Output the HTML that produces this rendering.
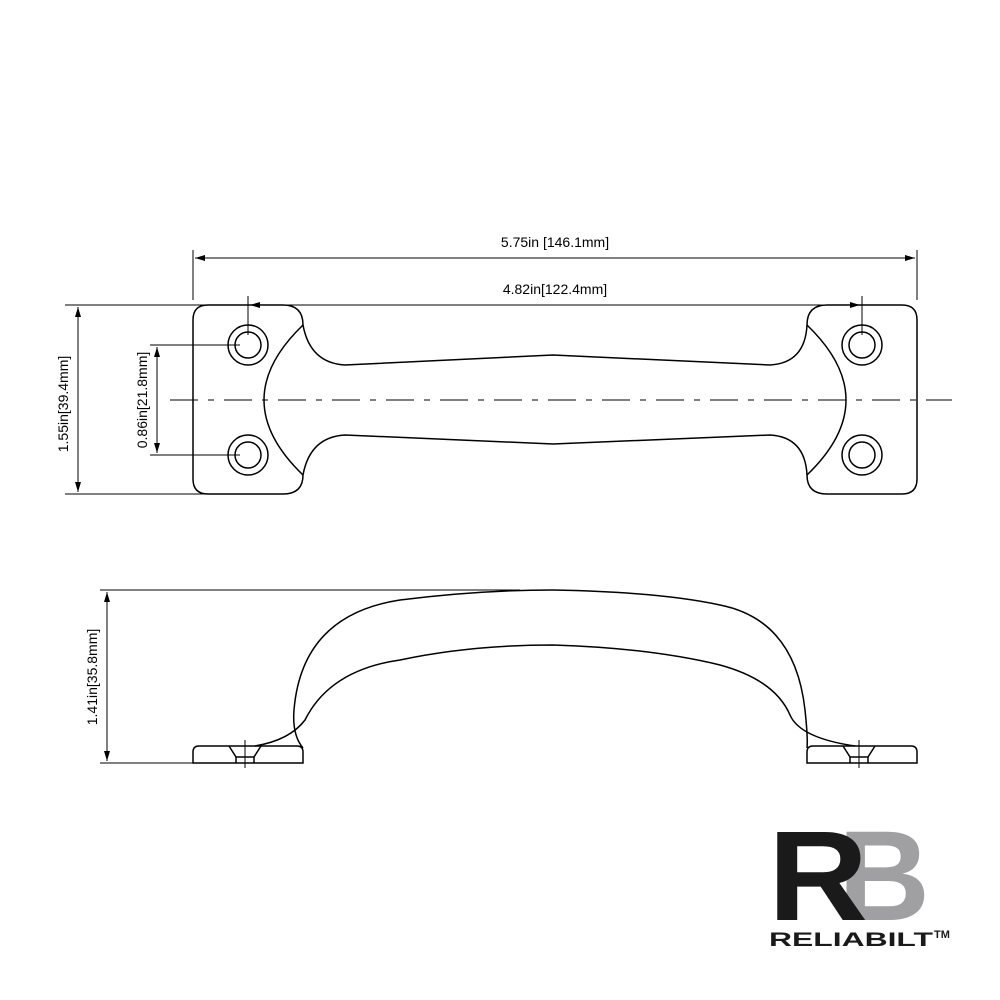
<!DOCTYPE html>
<html><head><style>body{margin:0;background:#fff}svg{display:block}</style></head><body>
<svg width="1000" height="1000" viewBox="0 0 1000 1000" xmlns="http://www.w3.org/2000/svg" font-family="Liberation Sans, sans-serif">
<defs><marker id="a" viewBox="0 0 10 6" refX="10" refY="3" markerWidth="10" markerHeight="6" orient="auto-start-reverse" markerUnits="userSpaceOnUse"><path d="M0,0L10,3L0,6z" fill="#000"/></marker></defs>
<g fill="none" stroke="#000" stroke-width="1.5">
<path d="M303,325 Q303,305 283,305 H208 Q193,305 193,320 V479 Q193,494 208,494 H283 Q303,494 303,475"/>
<path d="M303,325 Q310,363 345,365 L553,355 L770,365 Q805,363 807,325"/>
<path d="M303,475 Q310,437 345,435 L553,444 L770,435 Q805,437 807,475"/>
<path d="M807,325 Q807,305 827,305 H902 Q917,305 917,320 V479 Q917,494 902,494 H827 Q807,494 807,475"/>
<path d="M303,325 Q225,400 303,475"/>
<path d="M807,325 Q885,400 807,475"/>
<circle cx="248" cy="345" r="20"/><circle cx="248" cy="345" r="13"/>
<circle cx="248" cy="455" r="20"/><circle cx="248" cy="455" r="13"/>
<circle cx="862" cy="345" r="20"/><circle cx="862" cy="345" r="13"/>
<circle cx="862" cy="455" r="20"/><circle cx="862" cy="455" r="13"/>
</g>
<g fill="none" stroke="#000" stroke-width="1">
<line x1="170" y1="400" x2="952" y2="400" stroke-dasharray="28,10,6,10"/>
<line x1="193" y1="250" x2="193" y2="300"/><line x1="917" y1="250" x2="917" y2="300"/>
<line x1="195" y1="258" x2="915" y2="258" marker-start="url(#a)" marker-end="url(#a)"/>
<line x1="248" y1="296" x2="248" y2="335"/><line x1="862" y1="296" x2="862" y2="335"/>
<line x1="250" y1="305" x2="860" y2="305" marker-start="url(#a)" marker-end="url(#a)"/>
<line x1="65" y1="305" x2="205" y2="305"/><line x1="65" y1="494" x2="205" y2="494"/>
<line x1="78" y1="307" x2="78" y2="492" marker-start="url(#a)" marker-end="url(#a)"/>
<line x1="150" y1="345" x2="240" y2="345"/><line x1="150" y1="455" x2="240" y2="455"/>
<line x1="157" y1="347" x2="157" y2="453" marker-start="url(#a)" marker-end="url(#a)"/>
<line x1="100" y1="590" x2="520" y2="590"/>
<line x1="100" y1="763" x2="195" y2="763"/>
<line x1="107" y1="592" x2="107" y2="761" marker-start="url(#a)" marker-end="url(#a)"/>
</g>
<g fill="none" stroke="#000" stroke-width="1.5">
<path d="M193,763 V752 Q193,746 199,746 H297 Q303,746 303,752 V763 Z"/>
<path d="M807,763 V752 Q807,746 813,746 H911 Q917,746 917,752 V763 Z"/>
<path d="M229,746 L236,757 V763 M261,746 L254,757 V763 M236,757 H254"/>
<path d="M843,746 L850,757 V763 M875,746 L868,757 V763 M850,757 H868"/>
<path d="M303,748 Q292,735 294,710 Q302,615 400,600 Q480,590 553,590 Q660,592 720,605 Q795,620 805,710 Q808,738 807,748"/>
<path d="M255,746 Q290,740 305,720 Q330,670 400,660 Q470,645 553,645 Q650,648 720,665 Q775,680 790,715 Q800,738 855,746"/>
<line x1="245" y1="740" x2="245" y2="768" stroke-width="1"/>
<line x1="859" y1="740" x2="859" y2="768" stroke-width="1"/>
</g>
<g font-size="14" fill="#000" text-anchor="middle">
<text x="555" y="247">5.75in [146.1mm]</text>
<text x="555" y="294">4.82in[122.4mm]</text>
<text transform="translate(68,404) rotate(-90)">1.55in[39.4mm]</text>
<text transform="translate(147,400) rotate(-90)">0.86in[21.8mm]</text>
<text transform="translate(97,677) rotate(-90)">1.41in[35.8mm]</text>
</g>
<text x="838" y="920" font-size="128" font-weight="bold" fill="#a0a0a2" textLength="92" lengthAdjust="spacingAndGlyphs">B</text>
<text x="768" y="920" font-size="128" font-weight="bold" fill="#1a1a1a" textLength="100" lengthAdjust="spacingAndGlyphs">R</text>
<text x="769" y="946" font-size="19" font-weight="bold" fill="#1a1a1a" textLength="164" lengthAdjust="spacingAndGlyphs">RELIABILT</text>
<text x="934" y="938" font-size="11" font-weight="bold" fill="#1a1a1a">TM</text>
</svg>
</body></html>
